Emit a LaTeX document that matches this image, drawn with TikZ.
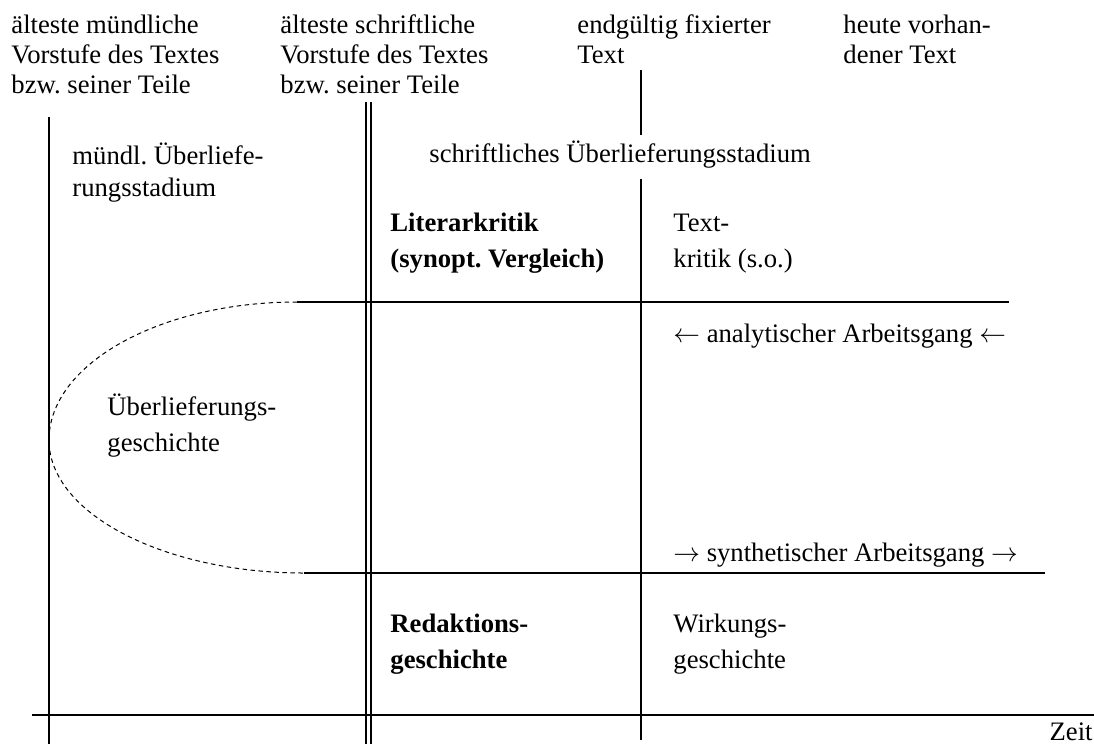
\documentclass[tikz,border=0pt]{standalone}
\usepackage{fontspec}
\setmainfont{Liberation Serif}
\usetikzlibrary{positioning}
\frenchspacing

\begin{document}
\begin{tikzpicture}[x=0.45pt, y=-0.45pt,
    label/.style={anchor=base west, align=left, inner sep=0pt,
                  font=\fontsize{12}{15.8}\selectfont},
    head/.style={label, font=\fontsize{12}{13.3}\selectfont},
    term/.style={label, font=\fontsize{12}{15.8}\selectfont\bfseries},
    rule/.style={line width=0.9pt},
    twin/.style={double, line width=0.7pt, double distance=1.6pt},
    axis/.style={line width=1.1pt},
    trail/.style={line width=0.45pt, dash pattern=on 2pt off 1.6pt}
  ]
  \useasboundingbox (0,0) rectangle (1094,744);

  % column heads (placed at the baseline of their last line)
  \node[head] (h1) at (11,93)  {älteste mündliche\\Vorstufe des Textes\\bzw. seiner Teile};
  \node[head] (h2) at (280,93) {älteste schriftliche\\Vorstufe des Textes\\bzw. seiner Teile};
  \node[head] (h3) at (577,63) {endgültig fixierter\\Text};
  \node[head] (h4) at (843,63) {heute vorhan-\\dener Text};

  % stages
  \node[label, font=\fontsize{12}{14.4}\selectfont] (oral) at (72,196) {mündl. Überliefe-\\rungsstadium};
  \node[label] (written) at (429,162) {schriftliches Überlieferungsstadium};

  % methods
  \node[term] (lit) at (390,267) {Literarkritik\\(synopt. Vergleich)};
  \node[label] (tk) at (673,267) {Text-\\kritik (s.o.)};
  \node[label] (ana) at (673,342) {$\leftarrow$ analytischer Arbeitsgang $\leftarrow$};
  \node[label] (ug) at (107,451) {Überlieferungs-\\geschichte};
  \node[label] (syn) at (673,561) {$\rightarrow$ synthetischer Arbeitsgang $\rightarrow$};
  \node[term] (red) at (390,668) {Redaktions-\\geschichte};
  \node[label] (wirk) at (673,668) {Wirkungs-\\geschichte};
  \node[label, anchor=base east] (zeit) at (1093,740) {Zeit};

  % line ends
  \coordinate (a0) at (49,117);   \coordinate (a1) at (49,744);
  \coordinate (b0) at (368.5,102); \coordinate (b1) at (368.5,744);
  \coordinate (c0) at (641,70);   \coordinate (c1) at (641,135);
  \coordinate (c2) at (641,179);  \coordinate (c3) at (641,740);
  \coordinate (r0) at (297,302);  \coordinate (r1) at (1009,302);
  \coordinate (s0) at (304,573);  \coordinate (s1) at (1045,573);
  \coordinate (t0) at (32,715);   \coordinate (t1) at (1094,715);

  \draw[rule] (a0) -- (a1);
  \draw[twin] (b0) -- (b1);
  \draw[rule] (c0) -- (c1);
  \draw[rule] (c2) -- (c3);
  \draw[rule] (r0) -- (r1);
  \draw[rule] (s0) -- (s1);
  \draw[axis] (t0) -- (t1);

  % tradition history loop
  \draw[trail] (r0) .. controls (160,302) and (49,364) .. (49,440)
                    .. controls (49,514) and (165,573) .. (s0);
\end{tikzpicture}
\end{document}
